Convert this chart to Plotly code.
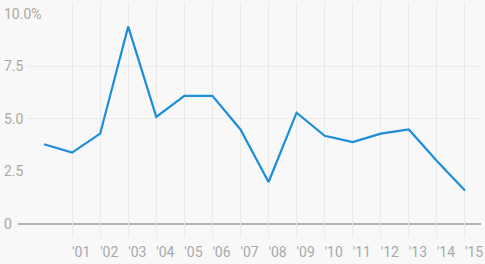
import plotly.graph_objects as go

years = list(range(2000, 2016))
values = [3.8, 3.4, 4.3, 9.4, 5.1, 6.1, 6.1, 4.5, 2.0, 5.3, 4.2, 3.9, 4.3, 4.5, 3.0, 1.6]
x_tick_vals = list(range(2001, 2016))
x_tick_text = ["'01", "'02", "'03", "'04", "'05", "'06", "'07", "'08", "'09", "'10",
               "'11", "'12", "'13", "'14", "'15"]
y_tick_vals = [0, 2.5, 5, 7.5, 10]
y_tick_text = ["0", "2.5", "5.0", "7.5", "10.0%"]
y_grid_vals = [5, 7.5]

W, H = 485, 264
ml, mr, mt, mb = 0, 4, 2, 26
pw = W - ml - mr
plot_left = 27
yr = [-0.667, 10.571]
xr = [1999.393, 2015.571]

fig = go.Figure()
fig.add_trace(go.Scatter(x=years, y=values, mode="lines",
                         line=dict(color="#1b8ddb", width=2.2), hoverinfo="skip",
                         showlegend=False))
# invisible trace for label axis
fig.add_trace(go.Scatter(x=[years[0]], y=[values[0]], yaxis="y2", mode="markers",
                         marker=dict(opacity=0), showlegend=False, hoverinfo="skip"))

fig.update_layout(
    width=W, height=H,
    margin=dict(l=ml, r=mr, t=mt, b=mb),
    paper_bgcolor="#f8f8f8", plot_bgcolor="#f8f8f8",
    font=dict(family="Roboto", size=14),
    xaxis=dict(domain=[plot_left / pw, 1], range=xr, tickvals=x_tick_vals, ticktext=x_tick_text,
               showgrid=True, gridcolor="#eaeaea", gridwidth=1, zeroline=False,
               showline=False, ticks="", ticklabelposition="outside right",
               ticklabelstandoff=4,
               tickfont=dict(color="#a6a9ae", size=14)),
    yaxis=dict(range=yr, tickvals=y_grid_vals, showticklabels=False, showgrid=True,
               gridcolor="#eaeaea", gridwidth=1, zeroline=False, showline=False, ticks=""),
    yaxis2=dict(range=yr, overlaying="y", anchor="free", position=0.0, side="left",
                tickvals=y_tick_vals, ticktext=y_tick_text, ticklabelposition="inside",
                showgrid=False, zeroline=False, showline=False, ticks="",
                tickfont=dict(color="#b0a69e", size=14)),
    shapes=[dict(type="line", xref="paper", yref="y", x0=18 / pw, x1=1, y0=0, y1=0,
                 line=dict(color="#9c9c9c", width=1.3), layer="below")],
)

fig.write_html("out.html")
